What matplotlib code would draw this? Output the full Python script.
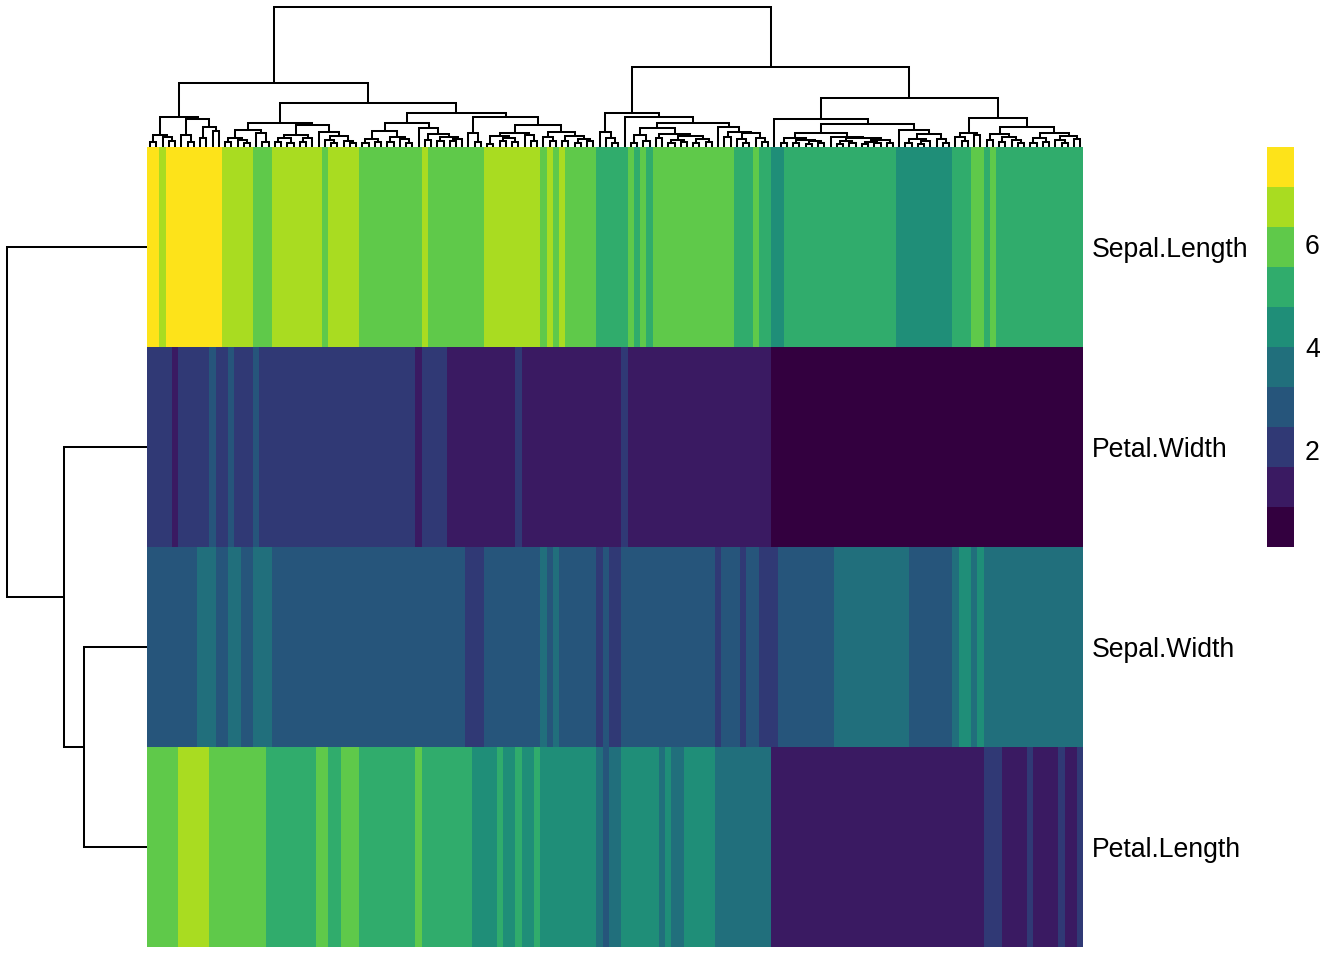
import numpy as np
import matplotlib
matplotlib.use("Agg")
import matplotlib.pyplot as plt
from matplotlib.colors import ListedColormap, BoundaryNorm

plt.rcParams['font.family'] = ['Liberation Sans', 'DejaVu Sans']

W, H = 1344, 960

row_labels = ["Sepal.Length", "Petal.Width", "Sepal.Width", "Petal.Length"]
colors = ["#33003F", "#3A1A62", "#303975", "#26557B", "#216F7C",
          "#1F8E78", "#30AC6C", "#5FC94A", "#A9DC21", "#FDE31A"]
bounds = [0.1, 0.88, 1.66, 2.44, 3.22, 4.0, 4.78, 5.56, 6.34, 7.12, 7.9]
bin_values = [0.2, 1.4, 2.0, 3.0, 3.5, 4.5, 5.0, 6.0, 6.7, 7.5]
cbar_ticks = [2, 4, 6]

# runs of equal-valued columns: (binned value index, run end column)
sepal_length_levels = [9, 8, 9, 8, 7, 8, 7, 8, 7, 8, 7, 8, 7, 8, 7, 8, 7, 6, 7, 6, 7, 6, 7, 6, 7, 6, 5, 6, 5, 6, 7, 6, 7, 6]
sepal_length_ends = [2, 3, 12, 17, 20, 28, 29, 34, 44, 45, 54, 63, 64, 65, 66, 67, 72, 77, 78, 79, 80, 81, 94, 97, 98, 100, 102, 120, 129, 132, 134, 135, 136, 150]
petal_width_levels = [2, 1, 2, 3, 2, 3, 2, 3, 2, 1, 2, 1, 2, 1, 2, 1, 0]
petal_width_ends = [4, 5, 10, 11, 13, 14, 17, 18, 43, 44, 48, 59, 60, 76, 77, 100, 150]
sepal_width_levels = [3, 4, 3, 4, 3, 4, 3, 2, 3, 4, 3, 4, 3, 2, 3, 2, 3, 2, 3, 2, 3, 2, 3, 4, 3, 4, 5, 4, 5, 4]
sepal_width_ends = [8, 11, 13, 15, 17, 20, 51, 54, 63, 64, 65, 66, 72, 73, 74, 76, 91, 92, 95, 96, 98, 101, 110, 122, 129, 130, 132, 133, 134, 150]
petal_length_levels = [7, 8, 7, 6, 7, 6, 7, 6, 7, 6, 5, 6, 5, 6, 5, 6, 5, 4, 3, 4, 5, 4, 5, 4, 5, 4, 1, 2, 1, 2, 1, 2, 1, 2]
petal_length_ends = [5, 10, 19, 27, 29, 31, 34, 43, 44, 52, 56, 57, 59, 60, 62, 63, 72, 73, 74, 76, 82, 83, 84, 86, 91, 100, 134, 137, 141, 142, 146, 147, 149, 150]


def expand(levels, ends):
    counts = np.diff([0] + ends)
    return np.repeat(np.array(bin_values)[levels], counts)


matrix = np.vstack([expand(sepal_length_levels, sepal_length_ends),
                    expand(petal_width_levels, petal_width_ends),
                    expand(sepal_width_levels, sepal_width_ends),
                    expand(petal_length_levels, petal_length_ends)])

# column dendrogram: (merge height, left, right); x = a leaf, in display order
x = None
col_a = (1.48,
         (0.6, (0.27, x, x), (0.52, x, (0.32, x, x))),
         (1.38, (0.6, x, (0.27, x, x)),
          (1.02, (0.43, x, x), (0.82, x, x))))
col_b1 = (0.85,
          (0.43, (0.27, x, x), (0.35, x, (0.2, x, x))),
          (0.68, x, (0.27, x, x)))
col_b2 = (1.1,
          (0.6, (0.43, (0.27, x, x), (0.2, x, x)), (0.47, (0.25, x, x), x)),
          (0.75, x, (0.55, (0.35, x, (0.2, x, x)), (0.3, x, (0.2, x, x)))))
col_c = (1.22,
         (0.82, (0.38, (0.2, x, x), (0.25, x, x)),
          (0.52, (0.27, x, x), (0.38, x, (0.2, x, x)))),
         (0.93, x, (0.65, (0.35, x, x),
                    (0.5, (0.3, x, x), (0.4, (0.3, x, x), x)))))
col_d = (1.1,
         (0.68, (0.55, (0.15, x, x), (0.45, (0.3, x, x), (0.25, x, x))),
          (0.6, x, (0.3, x, x))),
         (0.75, (0.48, x, (0.3, x, x)),
          (0.55, (0.3, x, x), (0.42, (0.2, x, x), (0.3, x, x)))))
col_left = (3.2, col_a,
            (2.2, (1.22, col_b1, col_b2),
             (1.68, col_c, (1.48, (0.68, x, (0.27, x, x)), col_d))))
col_g = (0.93,
         (0.6, (0.22, x, x), (0.32, x, x)),
         (0.65, (0.45, x, x),
          (0.55, (0.35, (0.2, x, x), (0.25, x, x)),
           (0.42, (0.2, x, x), (0.25, x, x)))))
col_h = (1.02, x,
         (0.75, (0.48, x, x),
          (0.7, (0.38, x, (0.2, x, x)), (0.45, x, (0.25, x, x)))))
col_r1 = (1.72, (0.75, x, (0.43, x, (0.2, x, x))),
          (1.48, x, (1.22, col_g, col_h)))
col_q = (0.68,
         (0.45, (0.2, x, x), (0.37, (0.22, x, x), (0.3, (0.15, x, x), (0.2, x, x)))),
         (0.52, x, (0.45, (0.3, (0.15, x, x), (0.18, x, x)),
                    (0.35, (0.25, (0.15, x, x), (0.18, x, x)), (0.2, x, x)))))
col_s = (0.85, x,
         (0.65, (0.38, (0.2, x, x), (0.28, (0.15, x, x), x)),
          (0.38, x, (0.2, x, x))))
col_m = (1.43,
         (0.72, (0.48, x, (0.3, x, x)), (0.6, x, x)),
         (1.02,
          (0.65, (0.35, x, x), (0.48, (0.25, x, x), (0.35, x, (0.18, x, x)))),
          (0.68, (0.43, (0.2, x, x), (0.25, x, x)),
           (0.55, (0.35, x, (0.2, x, x)), (0.4, x, x)))))
col_tree = (7.0, col_left,
            (4.0, col_r1, (2.45, (1.4, x, (1.13, col_q, col_s)), col_m)))
row_tree = (7.0, x, (4.15, x, (3.15, x, x)))


def axpx(left, top, right, bottom):
    return [left / W, 1 - bottom / H, (right - left) / W, (bottom - top) / H]


def draw_tree(node, counter, segment):
    if node is None:
        pos = counter[0] + 0.5
        counter[0] += 1
        return pos, 0.0
    h, a, b = node
    pa, ha = draw_tree(a, counter, segment)
    pb, hb = draw_tree(b, counter, segment)
    segment([pa, pa, pb, pb], [ha, h, h, hb])
    return (pa + pb) / 2, h


fig = plt.figure(figsize=(W / 100, H / 100), dpi=100)
LW = 1.45
RIGHT = 1083.4
FS = 19.2

cmap = ListedColormap(colors)
norm = BoundaryNorm(bounds, cmap.N)

ax = fig.add_axes(axpx(147, 147, RIGHT, 947))
ax.pcolormesh(np.arange(151), np.arange(5), matrix, cmap=cmap, norm=norm,
              edgecolors='none', antialiased=False)
ax.set_xlim(0, 150)
ax.set_ylim(4, 0)
ax.set_xticks([])
ax.yaxis.tick_right()
ax.set_yticks(np.arange(4) + 0.5, row_labels, fontsize=FS)
ax.tick_params(axis='y', length=0, pad=6.2)
for s in ax.spines.values():
    s.set_visible(False)

top = fig.add_axes(axpx(147, 7, RIGHT, 147))
top.set_xlim(0, 150)
top.set_ylim(0, 7)
top.axis('off')
leaves = [0]
draw_tree(col_tree, leaves,
          lambda xs, ys: top.plot(xs, ys, color='black', lw=LW, clip_on=False,
                                  solid_joinstyle='miter', solid_capstyle='butt'))
if leaves[0] != 150:
    raise SystemExit(f"column tree has {leaves[0]} leaves")

lft = fig.add_axes(axpx(7, 147, 147, 947))
lft.set_xlim(7, 0)
lft.set_ylim(4, 0)
lft.axis('off')
draw_tree(row_tree, [0],
          lambda ys, xs: lft.plot(xs, ys, color='black', lw=LW, clip_on=False,
                                  solid_joinstyle='miter', solid_capstyle='butt'))

cax = fig.add_axes(axpx(1267, 147, 1294, 547))
sm = plt.cm.ScalarMappable(norm=norm, cmap=cmap)
cb = fig.colorbar(sm, cax=cax, spacing='proportional', ticks=cbar_ticks)
cb.outline.set_visible(False)
cb.ax.minorticks_off()
cb.ax.tick_params(length=0, pad=8, labelsize=FS)

fig.savefig("out.png", dpi=100)
